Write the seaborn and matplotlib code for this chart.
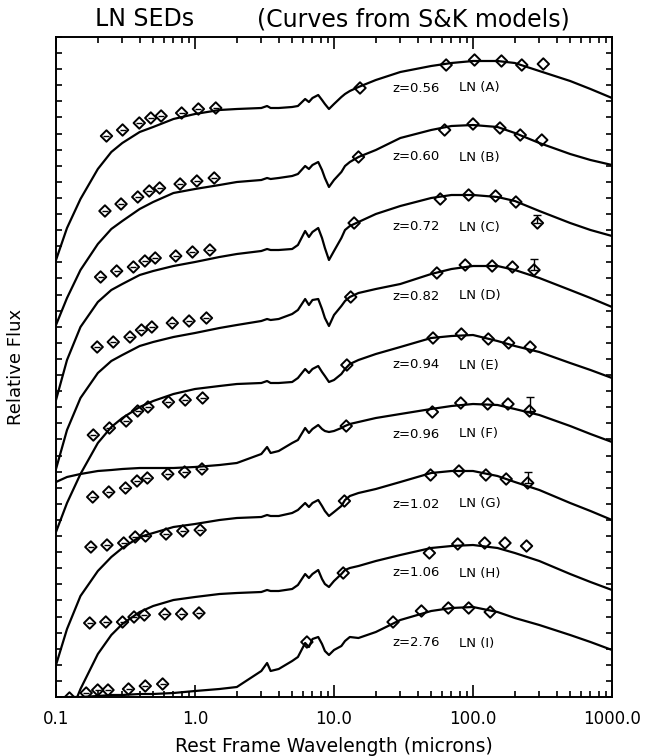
import numpy as np
import pandas as pd
import matplotlib
matplotlib.use("Agg")
import matplotlib.pyplot as plt
import seaborn as sns
from matplotlib.ticker import LogLocator, NullFormatter

sns.set_style("ticks")
plt.rcParams["font.family"] = ["DejaVu Sans"]
plt.rcParams["text.color"] = "black"
plt.rcParams["axes.labelcolor"] = "black"
plt.rcParams["xtick.color"] = "black"
plt.rcParams["ytick.color"] = "black"

# ---------------- data ----------------
# rest-frame wavelength grid (microns) of the model curves
wave = [0.1, 0.12, 0.15, 0.2, 0.25, 0.3, 0.4, 0.5, 0.7, 1.0, 1.5, 2.0, 3.0, 3.3,
        3.5, 4.0, 5.0, 5.5, 6.2, 6.6, 7.0, 7.7, 8.2, 8.6, 9.2, 10.0, 11.3, 12.0,
        13.0, 15.0, 20.0, 30.0, 50.0, 70.0, 100.0, 150.0, 200.0, 300.0, 500.0,
        700.0, 1000.0]

# relative flux of each (offset) S&K model curve
sed_A = [437, 469, 498, 528, 545, 554, 565, 570, 578, 583, 587, 588, 589, 591, 589, 589, 590, 591, 598, 595,
         599, 602, 597, 593, 588, 593, 600, 603, 606, 610, 617, 625, 631, 634, 636, 636, 634, 626, 616, 608, 599]
sed_B = [372, 399, 427, 453, 468, 476, 488, 495, 504, 508, 512, 515, 517, 519, 518, 519, 521, 523, 531, 528,
         532, 535, 527, 519, 510, 517, 525, 531, 535, 540, 547, 559, 567, 571, 572, 570, 564, 554, 543, 537, 532]
sed_C = [297, 337, 370, 395, 407, 413, 422, 426, 431, 435, 440, 443, 446, 448, 447, 447, 448, 452, 466, 460,
         465, 469, 459, 449, 437, 446, 459, 467, 471, 475, 483, 491, 499, 502, 502, 500, 496, 486, 474, 467, 461]
sed_D = [228, 267, 299, 324, 336, 342, 351, 355, 360, 364, 369, 372, 376, 378, 377, 378, 383, 387, 398, 392,
         397, 398, 388, 379, 371, 382, 391, 396, 400, 404, 408, 413, 423, 428, 431, 431, 427, 419, 407, 399, 390]
sed_E = [165, 194, 223, 254, 270, 279, 290, 296, 303, 308, 311, 313, 314, 316, 314, 314, 315, 319, 328, 324,
         328, 331, 325, 321, 315, 317, 323, 328, 333, 337, 343, 350, 359, 361, 362, 356, 351, 345, 334, 327, 319]
sed_F = [215, 220, 223, 226, 227, 228, 229, 229, 229, 230, 232, 234, 243, 250, 244, 246, 254, 257, 269, 264,
         268, 272, 268, 266, 265, 266, 269, 271, 273, 275, 279, 283, 288, 291, 293, 292, 288, 282, 271, 263, 255]
sed_G = [32, 68, 101, 126, 140, 149, 160, 164, 170, 173, 177, 179, 180, 182, 181, 181, 184, 187, 194, 190,
         194, 197, 191, 186, 181, 185, 191, 197, 201, 204, 208, 215, 224, 226, 226, 221, 215, 207, 194, 186, 177]
sed_H = [-60, -25, 8, 43, 62, 73, 85, 91, 97, 100, 103, 104, 105, 107, 106, 106, 108, 112, 123, 119,
         123, 127, 118, 113, 110, 116, 123, 127, 129, 131, 136, 142, 149, 151, 152, 149, 144, 136, 123, 115, 107]
sed_I = [-1, 0, 0, 1, 2, 2, 3, 3, 4, 6, 8, 10, 26, 34, 26, 28, 36, 40, 54, 50,
         58, 60, 53, 46, 42, 47, 51, 56, 60, 59, 65, 77, 86, 89, 90, 85, 79, 72, 62, 55, 47]

# observed bands (microns): u g r i z J H K, 24, 100, 160, 250, 350, 500
bands_obs = [0.36, 0.47, 0.62, 0.75, 0.89, 1.25, 1.65, 2.2, 24, 100, 160, 250, 350, 500]

sources = ["A", "B", "C", "D", "E", "F", "G", "H", "I"]
redshift = [0.56, 0.60, 0.72, 0.82, 0.94, 0.96, 1.02, 1.06, 2.76]
redshift_text = ["0.56", "0.60", "0.72", "0.82", "0.94", "0.96", "1.02", "1.06", "2.76"]

phot_A = [561, 567, 574, 579, 581, 584, 588, 589, 609, 632, 637, 636, 632, 633]
phot_B = [486, 493, 500, 506, 509, 513, 516, 519, 540, 567, 573, 569, 562, 557]
phot_C = [420, 426, 430, 436, 439, 441, 445, 447, 474, 498, 502, 501, 495, 474]
phot_D = [350, 355, 360, 367, 370, 374, 376, 379, 400, 424, 432, 431, 430, 427]
phot_E = [262, 269, 276, 286, 290, 295, 297, 299, 332, 359, 363, 358, 354, 350]
phot_F = [200, 205, 209, 216, 219, 223, 225, 228, 271, 285, 294, 293, 293, 286]
phot_G = [150, 152, 154, 160, 161, 163, 166, 167, 196, 222, 226, 222, 218, 214]
phot_H = [74, 75, 75, 80, 82, 83, 83, 84, 124, 144, 153, 154, 154, 151]
phot_I = [np.nan, -1, 4, 7, 7, 8, 11, 13, 55, 75, 86, 89, 89, 85]

# upper error bar on the 500 micron point
err_500 = [0, 0, 8, 11, 0, 14, 11, 0, 0]

# label placement (flux level of each label row)
label_flux = [609, 540, 470, 401, 332, 263, 193, 124, 54]
label_wave_z = 26.1
label_wave_ln = 79.3

sed_curves = [sed_A, sed_B, sed_C, sed_D, sed_E, sed_F, sed_G, sed_H, sed_I]
phot_all = [phot_A, phot_B, phot_C, phot_D, phot_E, phot_F, phot_G, phot_H, phot_I]

# ---------------- tables ----------------
curve_df = pd.concat(
    [pd.DataFrame({"wave": wave, "flux": c, "source": s}) for s, c in zip(sources, sed_curves)],
    ignore_index=True)

phot_rows = []
for s, z, p in zip(sources, redshift, phot_all):
    for i, (b, f) in enumerate(zip(bands_obs, p)):
        phot_rows.append({"source": s, "rest": b / (1.0 + z), "flux": f, "optical": i < 8})
phot_df = pd.DataFrame(phot_rows).dropna()

# ---------------- figure ----------------
W, H = 647, 756
fig = plt.figure(figsize=(W / 100, H / 100), dpi=100)
ax = fig.add_axes([56 / W, 59 / H, 556 / W, 660 / H])

sns.lineplot(data=curve_df, x="wave", y="flux", units="source", estimator=None,
             sort=False, color="black", linewidth=1.6, ax=ax)

sns.scatterplot(data=phot_df, x="rest", y="flux", marker="D", s=34,
                facecolor="none", edgecolor="black", linewidth=1.4, ax=ax, zorder=3)
sns.scatterplot(data=phot_df[phot_df["optical"]], x="rest", y="flux", marker="_", s=16,
                color="black", edgecolor="black", linewidth=1.0, ax=ax, zorder=3)

for z, p, e in zip(redshift, phot_all, err_500):
    if e > 0:
        ax.errorbar([bands_obs[-1] / (1 + z)], [p[-1]], yerr=[[0], [e]], fmt="none",
                    ecolor="black", elinewidth=1.0, capsize=3, capthick=1.0, zorder=3)

for s, zt, yl in zip(sources, redshift_text, label_flux):
    ax.text(label_wave_z, yl, f"z={zt}", fontsize=9.5, va="center", ha="left")
    ax.text(label_wave_ln, yl, f"LN ({s})", fontsize=9.5, va="center", ha="left")

ax.set_xscale("log")
ax.set_xlim(0.1, 1000)
ax.set_ylim(0, 660)
ax.set_xticks([0.1, 1, 10, 100, 1000])
ax.set_xticklabels(["0.1", "1.0", "10.0", "100.0", "1000.0"])
ax.xaxis.set_minor_locator(LogLocator(base=10, subs=np.arange(2, 10)))
ax.xaxis.set_minor_formatter(NullFormatter())
ax.set_yticks(np.linspace(0, 660, 42))
ax.set_yticklabels([])
ax.tick_params(axis="x", which="major", direction="in", length=8.5, width=1.2,
               top=True, bottom=True, labelsize=12, pad=9)
ax.tick_params(axis="x", which="minor", direction="in", length=4.3, width=1.2,
               top=True, bottom=True)
ax.tick_params(axis="y", which="major", direction="in", length=4.3, width=1.2,
               left=True, right=True)
for sp in ax.spines.values():
    sp.set_linewidth(1.4)
    sp.set_color("black")

ax.set_xlabel("Rest Frame Wavelength (microns)", fontsize=13.5)
ax.xaxis.set_label_coords(0.5, -0.061)
ax.set_ylabel("Relative Flux", fontsize=13)
ax.yaxis.set_label_coords(-0.056, 0.5)

fig.text(95 / W, 1 - 26 / H, "LN SEDs", fontsize=17, ha="left", va="baseline")
fig.text(257 / W, 1 - 26 / H, "(Curves from S&K models)", fontsize=17, ha="left", va="baseline")

fig.savefig("out.png", dpi=100, facecolor="white")
